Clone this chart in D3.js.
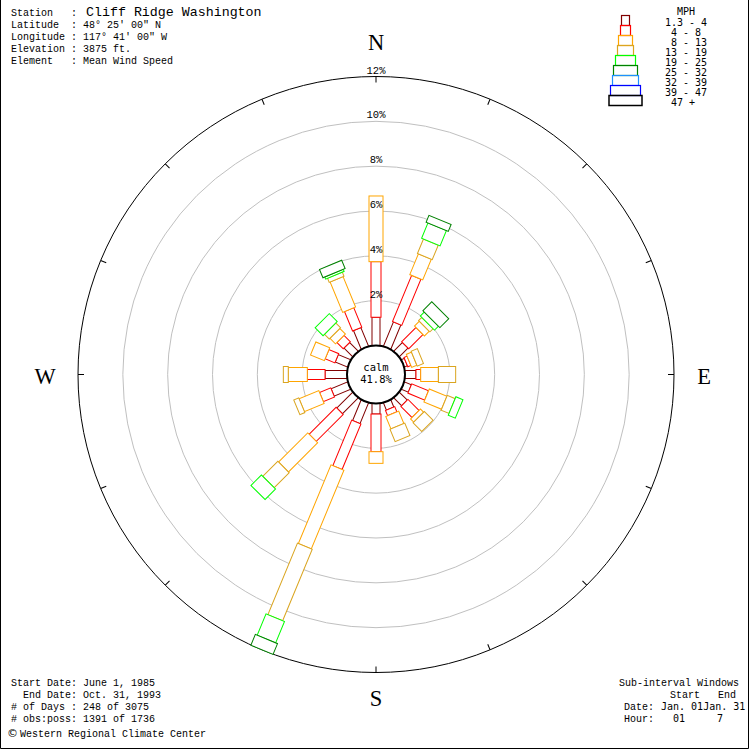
<!DOCTYPE html>
<html><head><meta charset="utf-8">
<script src="https://cdn.jsdelivr.net/npm/d3@7"></script>
<style>body{margin:0;background:#fff} svg{display:block} text{white-space:pre}</style>
</head><body>
<script>
// ---------- data ----------
const directions = ["N","NNE","NE","ENE","E","ESE","SE","SSE","S","SSW","SW","WSW","W","WNW","NW","NNW"];
const speedClasses = ["1.3 - 4","4 - 8","8 - 13","13 - 19","19 - 25","25 - 32","32 - 39","39 - 47","47 +"];
const legendLabels = ["1.3 - 4"," 4 - 8"," 8 - 13","13 - 19","19 - 25","25 - 32","32 - 39","39 - 47"," 47 +"];
const classColors = ["#800000","#ff0000","#ffa500","#daa520","#00ff00","#008000","#1e90ff","#0000ff","#000000"];
// percent of observations, by direction (N..NNW), for each speed class
const pct_1_4   = [1.26,1.17,0.55,0.15,0.49,0.34,0.50,0.35,0.47,1.00,1.00,0.80,0.98,0.60,0.55,0.90];
const pct_4_8   = [2.48,2.23,0.90,0.15,0.21,0.81,0.70,0.25,1.68,2.20,1.70,0.54,0.79,0.47,0.40,0.94];
const pct_8_13  = [2.93,1.00,0.30,0.25,0.79,0.85,0.20,0.60,0.52,3.80,1.84,0.95,0.85,0.67,0.35,1.46];
const pct_13_19 = [0,   0.70,0.20,0.30,0.77,0.38,0.55,0.60,0,   3.45,0.95,0.24,0.22,0,   0.30,0.20];
const pct_19_25 = [0,   0.74,0.25,0,   0,   0.34,0,   0,   0,   1.03,0.66,0,   0,   0,   0.50,0.10];
const pct_25_32 = [0,   0.33,0.56,0,   0,   0,   0,   0,   0,   0.52,0,   0,   0,   0,   0,   0.40];
const pct_32_39 = [0,0,0,0,0,0,0,0,0,0,0,0,0,0,0,0];
const pct_39_47 = [0,0,0,0,0,0,0,0,0,0,0,0,0,0,0,0];
const pct_47    = [0,0,0,0,0,0,0,0,0,0,0,0,0,0,0,0];
const gridTicks = [2,4,6,8,10,12];
const calmPercent = "41.8%";
const cardinals = ["N","E","S","W"];
const headerLabels = ["Station   : ","Latitude  : 48° 25' 00\" N","Longitude : 117° 41' 00\" W","Elevation : 3875 ft.","Element   : Mean Wind Speed"];
const stationName = "Cliff Ridge Washington";
const footerLeft = ["Start Date: June 1, 1985","  End Date: Oct. 31, 1993","# of Days : 248 of 3075","# obs:poss: 1391 of 1736"];
const credit = "Western Regional Climate Center";

// ---------- layout ----------
const W = 750, H = 750, cx = 376, cy = 374.5;
const classWidths = [8,10,14,16,20,24,26,30,33];
const series = [pct_1_4,pct_4_8,pct_8_13,pct_13_19,pct_19_25,pct_25_32,pct_32_39,pct_39_47,pct_47];
const rows = directions.map((d,i)=>{const o={dir:d}; speedClasses.forEach((k,j)=>o[k]=series[j][i]); return o;});
const stacked = d3.stack().keys(speedClasses)(rows);

const r = d3.scaleLinear().domain([0,12]).range([29,298]);
const angle = d3.scaleLinear().domain([0,directions.length]).range([0,360]);

const svg = d3.select("body").append("svg").attr("width",W).attr("height",H);
svg.append("rect").attr("width",W).attr("height",H).attr("fill","#fff");
svg.append("path").attr("d","M0.5,0V748.5H748.5V0").attr("fill","none").attr("stroke","#000");

const g = svg.append("g").attr("transform",`translate(${cx},${cy})`);
// grid circles
g.selectAll("circle.grid").data(gridTicks.slice(0,-1)).join("circle")
  .attr("r",d=>r(d)).attr("fill","none").attr("stroke","#c0c0c0");
g.append("circle").attr("r",r(12)).attr("fill","none").attr("stroke","#000");
// ticks
g.selectAll("line.tick").data(d3.range(16)).join("line")
  .attr("transform",d=>`rotate(${angle(d)})`)
  .attr("x1",0).attr("x2",0).attr("y1",-r(12)).attr("y2",-r(12)+6).attr("stroke","#000");

// petals
const petals = g.selectAll("g.petal").data(directions).join("g")
  .attr("transform",(d,i)=>`rotate(${angle(i)})`);
petals.each(function(d,i){
  const pg = d3.select(this);
  stacked.forEach((layer,j)=>{
    const [a,b] = layer[i];
    if (b - a <= 0) return;
    const w = classWidths[j];
    pg.append("rect").attr("x",-w/2).attr("y",-r(b)).attr("width",w).attr("height",r(b)-r(a))
      .attr("fill","#fff").attr("stroke",classColors[j]).attr("stroke-width",1);
  });
});

// calm circle
g.append("circle").attr("r",29).attr("fill","#fff").attr("stroke","#000").attr("stroke-width",2);
g.append("text").attr("y",-3.5).attr("text-anchor","middle").attr("font-family","DejaVu Sans Mono").attr("font-size",10.5).text("calm");
g.append("text").attr("y",8.5).attr("text-anchor","middle").attr("font-family","DejaVu Sans Mono").attr("font-size",10.5).text(calmPercent);

// grid labels
g.selectAll("text.gl").data(gridTicks).join("text")
  .attr("x",0).attr("y",d=>-r(d)-3).attr("text-anchor","middle")
  .attr("font-family","Liberation Mono").attr("font-size",10.5).text(d=>d+"%");

// cardinal labels
const cardPos = {N:[376,50],E:[704,384],S:[376,706],W:[45,384]};
svg.selectAll("text.card").data(cardinals).join("text")
  .attr("x",d=>cardPos[d][0]).attr("y",d=>cardPos[d][1]).attr("text-anchor","middle")
  .attr("font-family","Liberation Serif").attr("font-size",22.5).text(d=>d);

// header
svg.selectAll("text.hdr").data(headerLabels).join("text")
  .attr("x",11).attr("y",(d,i)=>16+12*i).attr("font-family","Liberation Mono").attr("font-size",10).text(d=>d);
svg.append("text").attr("x",86).attr("y",16).attr("font-family","Liberation Mono").attr("font-size",13.3).text(stationName);

// legend
svg.append("text").attr("x",665).attr("y",15).attr("font-family","DejaVu Sans Mono").attr("font-size",10).text("  MPH");
speedClasses.forEach((k,j)=>{
  const w = classWidths[j];
  svg.append("rect").attr("x",625-w/2+0.5).attr("y",15.5+10*j).attr("width",w).attr("height",10)
    .attr("fill","none").attr("stroke",classColors[j]).attr("stroke-width",j===8?1.5:1.2);
  svg.append("text").attr("x",665).attr("y",26+10*j).attr("font-family","DejaVu Sans Mono").attr("font-size",10).text(legendLabels[j]);
});

// footer
svg.selectAll("text.ftl").data(footerLeft).join("text")
  .attr("x",11).attr("y",(d,i)=>686+12*i).attr("font-family","Liberation Mono").attr("font-size",10).text(d=>d);
svg.append("text").attr("x",7).attr("y",737).attr("font-family","DejaVu Sans").attr("font-size",11).text("©");
svg.append("text").attr("x",20).attr("y",737).attr("font-family","Liberation Mono").attr("font-size",10).text(credit);

svg.append("text").attr("x",619).attr("y",686).attr("font-family","Liberation Mono").attr("font-size",10).text("Sub-interval Windows");
svg.append("text").attr("x",670).attr("y",698).attr("font-family","Liberation Mono").attr("font-size",10).text("Start");
svg.append("text").attr("x",718).attr("y",698).attr("font-family","Liberation Mono").attr("font-size",10).text("End");
svg.append("text").attr("x",624).attr("y",710).attr("font-family","Liberation Mono").attr("font-size",10).text("Date:");
svg.append("text").attr("x",661).attr("y",710).attr("font-family","DejaVu Sans Mono").attr("font-size",10).text("Jan. 01Jan. 31");
svg.append("text").attr("x",624).attr("y",722).attr("font-family","Liberation Mono").attr("font-size",10).text("Hour:");
svg.append("text").attr("x",673).attr("y",722).attr("font-family","DejaVu Sans Mono").attr("font-size",10).text("01");
svg.append("text").attr("x",717).attr("y",722).attr("font-family","DejaVu Sans Mono").attr("font-size",10).text("7");
</script>
</body></html>
